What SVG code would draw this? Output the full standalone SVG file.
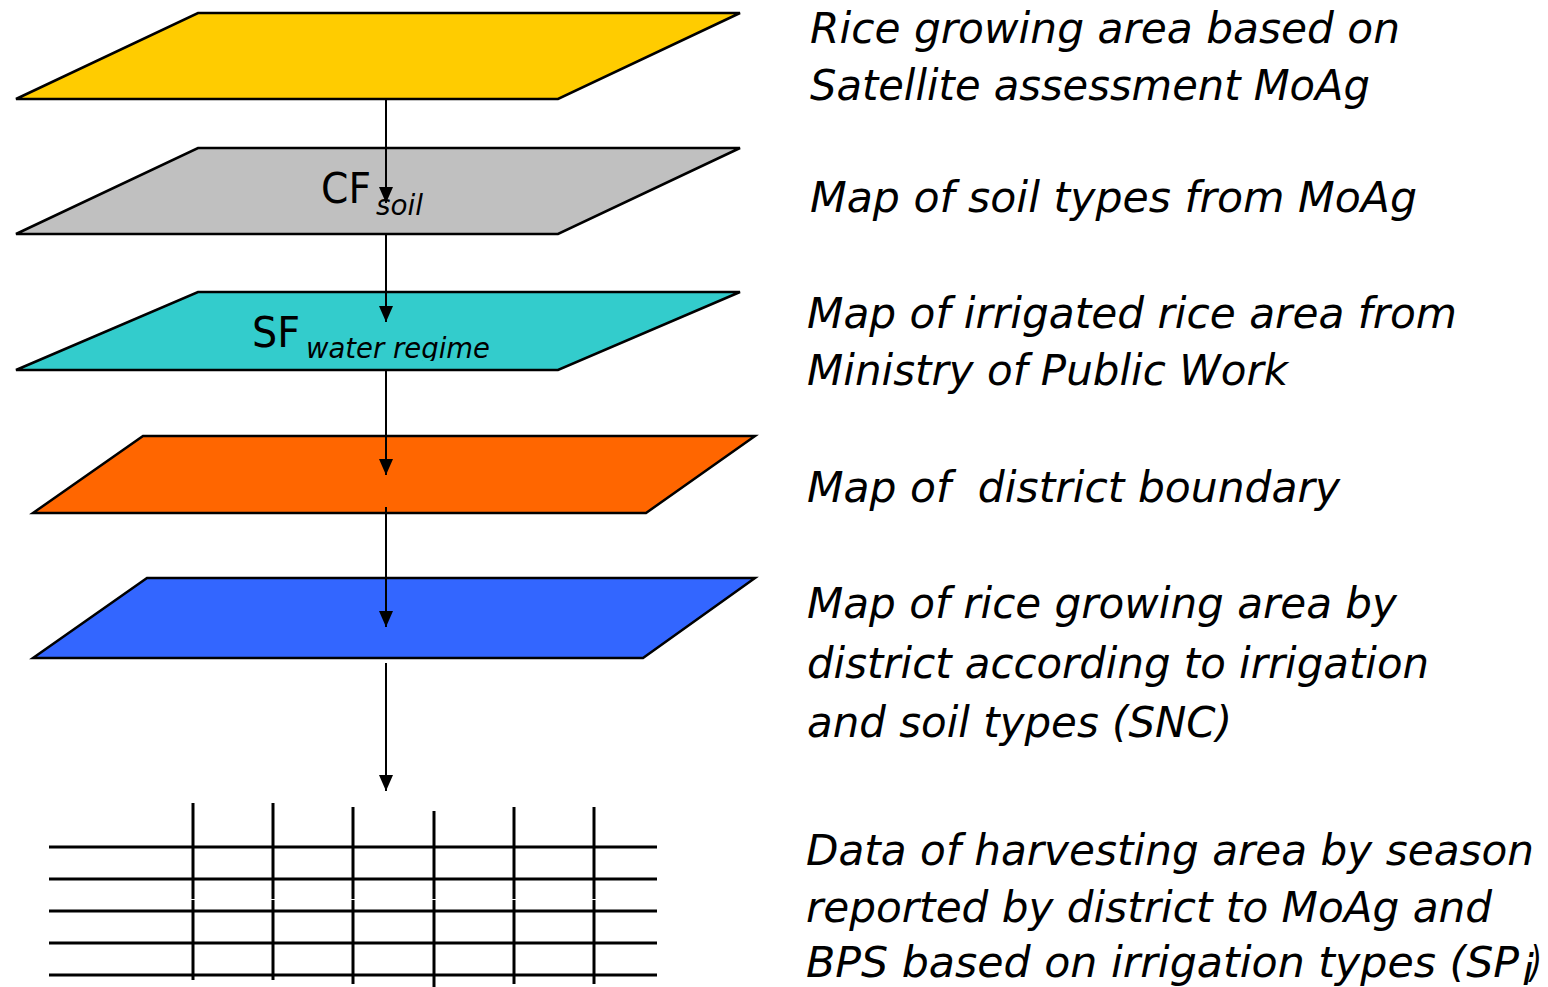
<svg xmlns="http://www.w3.org/2000/svg" width="1548" height="987" viewBox="0 0 1548 987">
<style>
.layer{stroke:#000;stroke-width:2.5;stroke-linejoin:miter}
.lbl{font-family:"DejaVu Sans","Verdana",sans-serif;fill:#000}
.it{font-style:italic}
.desc{font-family:"DejaVu Sans","Verdana",sans-serif;font-style:italic;font-size:43px;fill:#000;white-space:pre}
.conn{stroke:#000;stroke-width:2;fill:none}
.grid{stroke:#000;stroke-width:3}
</style>
<defs>
<marker id="ah" markerUnits="userSpaceOnUse" markerWidth="16" markerHeight="14" viewBox="0 0 16 14" refX="16" refY="7" orient="auto">
<path d="M0,0 L16,7 L0,14 z" fill="#000"/>
</marker>
<clipPath id="sfclip"><rect x="0" y="290" width="760" height="71"/></clipPath>
</defs>
<rect width="1548" height="987" fill="#fff"/>

<g id="layer-satellite">
<polygon class="layer" fill="#FFCC00" points="198,13 740,13 558,99 16,99"/>
</g>
<g id="layer-soil">
<polygon class="layer" fill="#C0C0C0" points="198,148 740,148 558,234 16,234"/>
<text class="lbl" x="321" y="203" font-size="42" textLength="50" lengthAdjust="spacingAndGlyphs">CF</text>
<text class="lbl it" x="376" y="215" font-size="29" textLength="47" lengthAdjust="spacingAndGlyphs">soil</text>
</g>
<g id="layer-water">
<polygon class="layer" fill="#33CCCC" points="198,292 740,292 558,370 16,370"/>
<text class="lbl" x="252" y="347" font-size="42" textLength="48" lengthAdjust="spacingAndGlyphs">SF</text>
<text class="lbl it" x="306" y="358" font-size="29" textLength="184" lengthAdjust="spacingAndGlyphs" clip-path="url(#sfclip)">water regime</text>
</g>
<g id="layer-district">
<polygon class="layer" fill="#FF6600" points="143,436 755,436 646,513 33,513"/>
</g>
<g id="layer-snc">
<polygon class="layer" fill="#3366FF" points="147,578 755,578 643,658 33,658"/>
</g>

<g id="table">
<line class="grid" x1="49" y1="847" x2="657" y2="847"/>
<line class="grid" x1="49" y1="879" x2="657" y2="879"/>
<line class="grid" x1="49" y1="911" x2="657" y2="911"/>
<line class="grid" x1="49" y1="943" x2="657" y2="943"/>
<line class="grid" x1="49" y1="975" x2="657" y2="975"/>
<line class="grid" x1="193" y1="803" x2="193" y2="899"/><line class="grid" x1="193" y1="900" x2="193" y2="980"/>
<line class="grid" x1="273" y1="803" x2="273" y2="899"/><line class="grid" x1="273" y1="900" x2="273" y2="980"/>
<line class="grid" x1="353" y1="807" x2="353" y2="899"/><line class="grid" x1="353" y1="900" x2="353" y2="984"/>
<line class="grid" x1="434" y1="811" x2="434" y2="899"/><line class="grid" x1="434" y1="900" x2="434" y2="987"/>
<line class="grid" x1="514" y1="807" x2="514" y2="899"/><line class="grid" x1="514" y1="900" x2="514" y2="984"/>
<line class="grid" x1="594" y1="807" x2="594" y2="899"/><line class="grid" x1="594" y1="900" x2="594" y2="984"/>
</g>

<g id="connectors">
<line class="conn" x1="386" y1="99" x2="386" y2="203" marker-end="url(#ah)"/>
<line class="conn" x1="386" y1="234" x2="386" y2="322" marker-end="url(#ah)"/>
<line class="conn" x1="386" y1="370" x2="386" y2="475" marker-end="url(#ah)"/>
<line class="conn" x1="386" y1="507" x2="386" y2="627" marker-end="url(#ah)"/>
<line class="conn" x1="386" y1="663" x2="386" y2="791" marker-end="url(#ah)"/>
</g>

<g id="descriptions">
<text class="desc" x="810" y="43" textLength="590" lengthAdjust="spacingAndGlyphs">Rice growing area based on</text>
<text class="desc" x="810" y="100" textLength="560" lengthAdjust="spacingAndGlyphs">Satellite assessment MoAg</text>
<text class="desc" x="810" y="212" textLength="607" lengthAdjust="spacingAndGlyphs">Map of soil types from MoAg</text>
<text class="desc" x="807" y="328" textLength="650" lengthAdjust="spacingAndGlyphs">Map of irrigated rice area from</text>
<text class="desc" x="807" y="385" textLength="481" lengthAdjust="spacingAndGlyphs">Ministry of Public Work</text>
<text class="desc" x="807" y="502" textLength="533" lengthAdjust="spacingAndGlyphs">Map of  district boundary</text>
<text class="desc" x="807" y="618" textLength="590" lengthAdjust="spacingAndGlyphs">Map of rice growing area by</text>
<text class="desc" x="807" y="678" textLength="622" lengthAdjust="spacingAndGlyphs">district according to irrigation</text>
<text class="desc" x="807" y="737" textLength="425" lengthAdjust="spacingAndGlyphs">and soil types (SNC)</text>
<text class="desc" x="806" y="865" textLength="728" lengthAdjust="spacingAndGlyphs">Data of harvesting area by season</text>
<text class="desc" x="806" y="922" textLength="686" lengthAdjust="spacingAndGlyphs">reported by district to MoAg and</text>
<text class="desc" x="806" y="977" textLength="713" lengthAdjust="spacingAndGlyphs">BPS based on irrigation types (SP</text>
<text class="desc" x="1522" y="985" font-size="22">i</text>
<text class="desc" x="1530" y="977" font-size="40" textLength="12" lengthAdjust="spacingAndGlyphs">)</text>
</g>
</svg>
